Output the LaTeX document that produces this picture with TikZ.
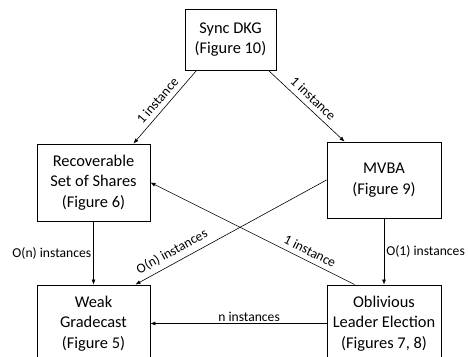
\documentclass[tikz,border=0pt]{standalone}
\usepackage{fontspec}
\setmainfont{Carlito}
\usetikzlibrary{arrows.meta}
\tikzstyle{box}=[draw,line width=0.9pt,align=center,inner sep=0pt,font=\fontsize{16.4}{20.5}\selectfont]
\tikzstyle{link}=[-{Latex[length=5pt,width=4pt]},line width=0.6pt]
\tikzstyle{lbl}=[font=\fontsize{13.6}{16}\selectfont,inner sep=2pt]
\tikzstyle{slant}=[lbl,sloped,above,inner sep=5pt]

\begin{document}
\begin{tikzpicture}[x=1pt,y=-1pt]
    \useasboundingbox (0,0) rectangle (468,356);
    % protocols
    \node[box,minimum width=91pt,minimum height=61pt] (dkg) at (230.5,39.5) {Sync DKG\\(Figure 10)};
    \node[box,minimum width=113pt,minimum height=77pt] (rss) at (93.5,182.5) {Recoverable\\Set of Shares\\(Figure 6)};
    \node[box,minimum width=114pt,minimum height=76pt] (mvba) at (384,180) {MVBA\\(Figure 9)};
    \node[box,minimum width=113pt,minimum height=77pt] (wgc) at (93.5,323.5) {Weak\\Gradecast\\(Figure 5)};
    \node[box,minimum width=114pt,minimum height=77pt] (ole) at (384,323.5) {Oblivious\\Leader Election\\(Figures 7, 8)};
    % uses
    \draw[link] ([xshift=12pt]dkg.south west) -- node[slant] {1 instance} ([xshift=-17pt]rss.north east);
    \draw[link] ([xshift=-8pt]dkg.south east) -- node[slant] {1 instance} ([xshift=18pt]mvba.north west);
    \draw[link] (rss.south) -- node[lbl,left] {O(n) instances} (wgc.north);
    \draw[link] (mvba.south) -- node[lbl,right] {O(1) instances} (ole.north);
    \draw[link] (mvba.west) -- node[slant,pos=0.78] {O(n) instances} ([xshift=-15pt]wgc.north east);
    \draw[link] ([xshift=28pt]ole.north west) -- node[slant,pos=0.24] {1 instance} (rss.east);
    \draw[link] (ole.west) -- node[lbl,above,pos=0.44] {n instances} (wgc.east);
\end{tikzpicture}
\end{document}
